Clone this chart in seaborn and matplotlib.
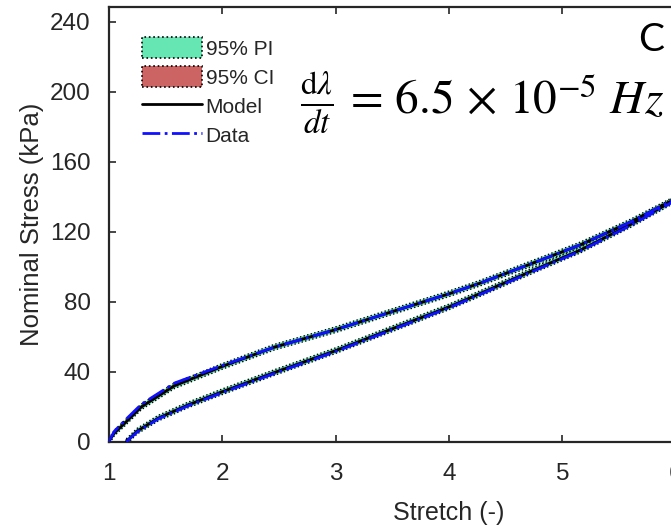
import matplotlib
matplotlib.use("Agg")
import matplotlib.pyplot as plt
import seaborn as sns
import numpy as np
import pandas as pd
from matplotlib.patches import Patch
from matplotlib.lines import Line2D

# ---- data ----
stretch_load = [1.00, 1.05, 1.14, 1.29, 1.58, 2.00, 2.46, 3.00, 3.46, 4.00, 4.27, 4.80, 5.16, 5.60, 5.96, 6.30]
model_load = [0.0, 5.0, 10.5, 20.0, 32.0, 43.0, 54.0, 64.0, 73.5, 84.5, 90.5, 103.5, 112.5, 125.5, 137.5, 151.0]
data_load = [0.0, 6.0, 12.0, 21.5, 33.5, 43.5, 54.0, 64.0, 73.5, 84.5, 90.5, 103.5, 112.5, 125.5, 137.5, 151.0]

stretch_unload = [1.155, 1.25, 1.435, 1.70, 2.00, 2.46, 3.00, 3.46, 4.00, 4.27, 4.80, 5.16, 5.60, 5.96, 6.30]
model_unload = [0.0, 6.0, 13.4, 21.0, 28.5, 39.5, 52.0, 63.5, 77.0, 84.5, 99.5, 109.5, 124.0, 137.0, 151.0]
data_unload = [0.0, 5.5, 13.0, 20.5, 28.0, 39.0, 51.5, 63.0, 76.5, 84.0, 99.0, 109.0, 123.5, 136.5, 151.0]

pi_half = 1.6   # kPa, half width of 95% PI band
ci_half = 0.6   # kPa, half width of 95% CI band

legend_labels = ["95% PI", "95% CI", "Model", "Data"]
pi_color = "#66e6b3"
ci_color = "#cc6464"

sns.set_style("ticks")
plt.rcParams["font.family"] = ["Liberation Sans", "DejaVu Sans"]
plt.rcParams["mathtext.fontset"] = "stix"

fig = plt.figure(figsize=(6.71, 5.26), dpi=100)
W, H = 671, 526
ax_left, ax_bottom_px, ax_top_px = 108.7, 441.7, 6.7
unit = 113.4
xmin, xmax = 1, 7
ax = fig.add_axes([ax_left / W, 1 - ax_bottom_px / H,
                   (xmax - xmin) * unit / W, (ax_bottom_px - ax_top_px) / H])

for xs, ym in [(stretch_load, model_load), (stretch_unload, model_unload)]:
    xs = np.array(xs); ym = np.array(ym)
    ax.fill_between(xs, ym - pi_half, ym + pi_half, facecolor=pi_color,
                    edgecolor="black", linestyle=":", linewidth=1.0, zorder=2)
    ax.fill_between(xs, ym - ci_half, ym + ci_half, facecolor=ci_color,
                    edgecolor="black", linestyle=":", linewidth=0.6, zorder=3)

df_model = pd.concat([
    pd.DataFrame({"stretch": stretch_load, "stress": model_load, "branch": "load"}),
    pd.DataFrame({"stretch": stretch_unload, "stress": model_unload, "branch": "unload"}),
])
df_data = pd.concat([
    pd.DataFrame({"stretch": stretch_load, "stress": data_load, "branch": "load"}),
    pd.DataFrame({"stretch": stretch_unload, "stress": data_unload, "branch": "unload"}),
])

sns.lineplot(data=df_model, x="stretch", y="stress", units="branch", estimator=None,
             sort=False, color="black", linewidth=2.0, ax=ax, zorder=4, legend=False)
sns.lineplot(data=df_data, x="stretch", y="stress", units="branch", estimator=None,
             sort=False, color="#1010ff", linewidth=2.0, linestyle="-.", ax=ax, zorder=5,
             legend=False)

ax.set_xlim(xmin, xmax)
ax.set_ylim(0, (ax_bottom_px - ax_top_px) / 1.75)
ax.set_xticks([1, 2, 3, 4, 5, 6, 7])
ax.set_yticks([0, 40, 80, 120, 160, 200, 240])
ax.tick_params(direction="in", length=5, width=1.2, top=True, right=True,
               labelsize=17.5, colors="#262626")
ax.tick_params(axis="y", pad=13)
ax.tick_params(axis="x", pad=15)
for s in ax.spines.values():
    s.set_linewidth(1.6)
    s.set_color("#262626")
ax.set_xlabel("Stretch (-)", fontsize=18, color="#262626", labelpad=12)
ax.set_ylabel("Nominal Stress (kPa)", fontsize=18.5, color="#262626", labelpad=4)

handles = [
    Patch(facecolor=pi_color, edgecolor="black", linestyle=":", linewidth=1.2),
    Patch(facecolor=ci_color, edgecolor="black", linestyle=":", linewidth=1.2),
    Line2D([0], [0], color="black", linewidth=2.0),
    Line2D([0], [0], color="#1010ff", linewidth=2.0, linestyle="-."),
]
leg = ax.legend(handles, legend_labels, loc="upper left",
                bbox_to_anchor=((142 - ax_left) / ((xmax - xmin) * unit),
                                1 - (37 - ax_top_px) / (ax_bottom_px - ax_top_px)),
                frameon=False, fontsize=15, handlelength=2.9, handleheight=1.2,
                handletextpad=0.15, labelspacing=0.35, borderaxespad=0, borderpad=0)

fig.text(300 / W, 1 - 102 / H,
         r"$\frac{\mathrm{d}\lambda}{dt}\,=\,6.5\,\times\,10^{-5}\ Hz$",
         fontsize=34, ha="left", va="center", color="black")
fig.text(664 / W, 1 - 40 / H, "C", fontsize=28, ha="right", va="center",
         family=["Lato", "DejaVu Sans"], color="black")

fig.savefig("out.png", dpi=100)
